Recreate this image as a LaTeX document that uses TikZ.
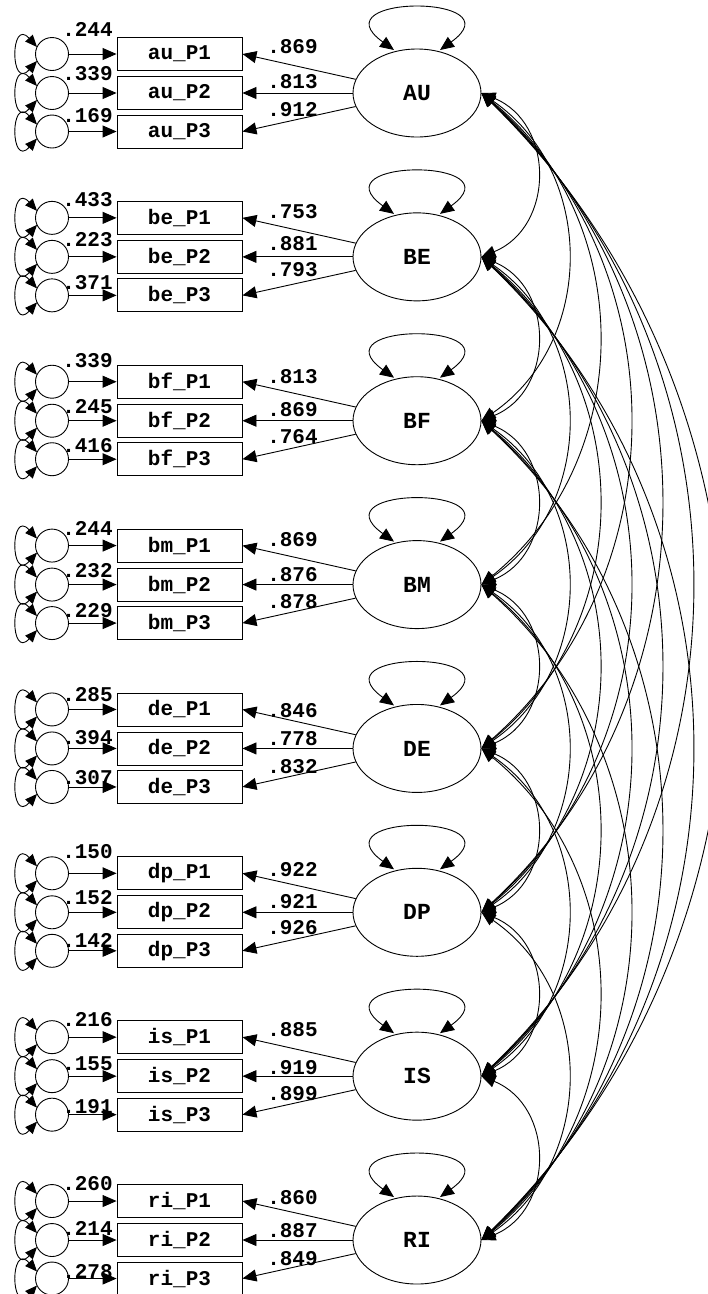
\documentclass[tikz,border=0pt]{standalone}
\usepackage{fontspec}
\setmonofont{Liberation Mono}
\usetikzlibrary{shapes.geometric,arrows.meta,calc}
\begin{document}
\begin{tikzpicture}[x=1pt,y=-1pt,
  every node/.style={font=\ttfamily\bfseries\fontsize{21}{24}\selectfont},
  obs/.style={draw, line width=0.9pt, minimum width=125pt, minimum height=33pt, inner sep=0pt},
  errc/.style={draw, circle, line width=0.9pt, minimum size=33pt, inner sep=0pt},
  lat/.style={draw, ellipse, line width=0.9pt, minimum width=128pt, minimum height=88pt, inner sep=0pt, font=\ttfamily\bfseries\fontsize{23}{26}\selectfont},
  arr/.style={line width=0.9pt, -{Triangle[length=14pt,width=12pt]}},
  dbl/.style={line width=0.9pt, {Triangle[length=14pt,width=12pt]}-{Triangle[length=14pt,width=12pt]}},
  sdbl/.style={line width=0.9pt, {Triangle[length=12pt,width=10pt]}-{Triangle[length=12pt,width=10pt]}},
  lab/.style={inner sep=0pt, anchor=center}
]
\useasboundingbox (0,0) rectangle (708,1294);
\clip (0,0) rectangle (708,1294);

\foreach \i/\pf/\Nm/\ea/\eb/\ec/\la/\lb/\lc/\ya/\yb/\yc/\za/\zb/\zc in {
  0/au/AU/.244/.339/.169/.869/.813/.912/29.3/73.3/116/46.7/81.7/109.3,
  1/be/BE/.433/.223/.371/.753/.881/.793/200/240/283/212/244/270,
  2/bf/BF/.339/.245/.416/.813/.869/.764/360.7/406.7/446/376.7/410/436.7,
  3/bm/BM/.244/.232/.229/.869/.876/.878/528.3/571/610.7/539.3/575/601.7,
  4/de/DE/.285/.394/.307/.846/.778/.832/695/737.3/777.3/710.7/738.3/766.7,
  5/dp/DP/.150/.152/.142/.922/.921/.926/851.7/897.3/940/869.3/901.7/927.3,
  6/is/IS/.216/.155/.191/.885/.919/.899/1019.3/1064/1106.7/1030/1067.3/1093.3,
  7/ri/RI/.260/.214/.278/.860/.887/.849/1183.3/1228.3/1272/1197.3/1230.7/1258.3}{
  \pgfmathsetmacro\cy{93+163.86*\i}
  \node[lat] (L\i) at (417,\cy) {\Nm};
  \draw[dbl] (394,\cy-43) .. controls (316,\cy-99) and (518,\cy-99) .. (440,\cy-43);
  \foreach \q/\dy/\ev/\ey/\lv/\ly in {1/-39/\ea/\ya/\la/\za, 2/0/\eb/\yb/\lb/\zb, 3/38.5/\ec/\yc/\lc/\zc}{
    \node[obs] (b\i\q) at (179.5,\cy+\dy) {\pf\_P\q};
    \node[errc] (e\i\q) at (52,\cy+\dy) {};
    \draw[arr] (e\i\q) -- (b\i\q);
    \draw[arr] (L\i) -- (b\i\q.east);
    \draw[sdbl] (37,\cy+\dy-7) .. controls (10,\cy+\dy-37) and (10,\cy+\dy+37) .. (37,\cy+\dy+7);
    \node[lab] at (87.5,\ey) {\ev};
    \node[lab] at (292.5,\ly) {\lv};
  }
}

\foreach \i in {0,...,6}{
  \pgfmathtruncatemacro\ist{\i+1}
  \foreach \j in {\ist,...,7}{
    \pgfmathsetmacro\Lk{163.86*(\j-\i)}
    \pgfmathsetmacro\sg{24+31*(\j-\i)}
    \pgfmathsetmacro\hx{4*\sg/3}
    \pgfmathsetmacro\off{\Lk/3-4*\sg/3*(\sg/\Lk)}
    \draw[dbl] (L\i.east) .. controls ($(L\i.east)+(\hx,\off)$) and ($(L\j.east)+(\hx,-\off)$) .. (L\j.east);
  }
}
\end{tikzpicture}
\end{document}
